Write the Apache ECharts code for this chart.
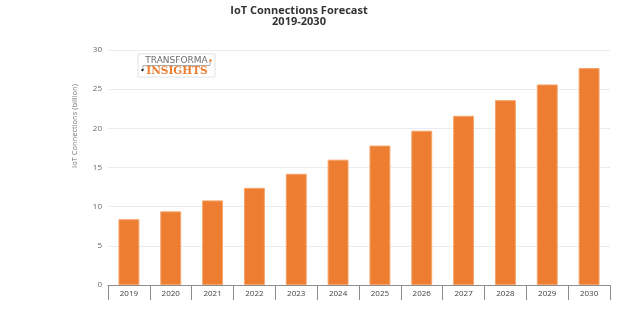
<!DOCTYPE html>
<html>
<head>
<meta charset="utf-8">
<script src="https://cdn.jsdelivr.net/npm/echarts@6/dist/echarts.min.js"></script>
<style>
  html, body { margin: 0; padding: 0; background: #fff; }
  #chart { width: 622px; height: 325px; }
</style>
</head>
<body>
<div id="chart"></div>
<script>
// Forecast years and IoT connection counts (billions)
const years = ['2019', '2020', '2021', '2022', '2023', '2024', '2025', '2026', '2027', '2028', '2029', '2030'];
const connections = [8.4, 9.4, 10.8, 12.4, 14.2, 16.0, 17.8, 19.7, 21.6, 23.6, 25.6, 27.7];
const yTicks = { min: 0, max: 30, step: 5 };

const barOrange = '#ED7D31';
const labelFont = '"Open Sans", "DejaVu Sans", sans-serif';

const chart = echarts.init(document.getElementById('chart'), null, { renderer: 'canvas' });

chart.setOption({
  animation: false,
  backgroundColor: '#ffffff',
  grid: { left: 108, right: 12, top: 50, bottom: 40, containLabel: false },
  xAxis: {
    type: 'category',
    data: years,
    boundaryGap: true,
    axisLine: { show: true, lineStyle: { color: '#8c8c8c', width: 1 } },
    axisTick: { show: true, length: 15, lineStyle: { color: '#8c8c8c', width: 1 } },
    axisLabel: { color: '#404040', fontSize: 8, fontFamily: labelFont, margin: 5 }
  },
  yAxis: {
    type: 'value',
    min: yTicks.min,
    max: yTicks.max,
    interval: yTicks.step,
    axisLine: { show: false },
    axisTick: { show: false },
    axisLabel: { color: '#666666', fontSize: 8, fontFamily: labelFont, margin: 6 },
    splitLine: { lineStyle: { color: '#e8ebf2', width: 1 } }
  },
  series: [{
    type: 'bar',
    data: connections,
    barWidth: '50%',
    itemStyle: { color: barOrange, borderColor: '#f5a56c', borderWidth: 1 }
  }],
  graphic: [
    {
      type: 'text',
      x: 299, y: 5,
      style: {
        text: 'IoT Connections Forecast\n2019-2030',
        align: 'center',
        verticalAlign: 'top',
        font: 'bold 11px "Open Sans", "DejaVu Sans", sans-serif',
        lineHeight: 11,
        fill: '#333333'
      }
    },
    {
      type: 'text',
      x: 75, y: 126,
      rotation: Math.PI / 2,
      style: {
        text: 'IoT Connections (billion)',
        align: 'center',
        verticalAlign: 'middle',
        font: '7.5px "Open Sans", "DejaVu Sans", sans-serif',
        fill: '#777777'
      }
    },
    {
      type: 'group',
      x: 138, y: 54,
      children: [
        { type: 'rect', shape: { x: 0, y: 0, width: 77, height: 23 }, style: { fill: '#ffffff', stroke: '#e2e2e2', lineWidth: 1 } },
        { type: 'text', x: 38.5, y: 6.5, style: { text: 'TRANSFORMA', align: 'center', verticalAlign: 'middle', font: '9px "DejaVu Sans", sans-serif', fill: '#6e6e6e' } },
        { type: 'polyline', shape: { points: [[5, 15.5], [5, 11.5], [72, 11.5], [72, 7]] }, style: { stroke: '#888888', lineWidth: 0.7, fill: null } },
        { type: 'circle', shape: { cx: 4.5, cy: 16, r: 1.2 }, style: { fill: '#222222' } },
        { type: 'circle', shape: { cx: 72.5, cy: 6.5, r: 1.3 }, style: { fill: barOrange } },
        { type: 'text', x: 39, y: 17, style: { text: 'INSIGHTS', align: 'center', verticalAlign: 'middle', font: 'bold 10.5px "DejaVu Serif", serif', fill: barOrange } }
      ]
    }
  ]
});
</script>
</body>
</html>
